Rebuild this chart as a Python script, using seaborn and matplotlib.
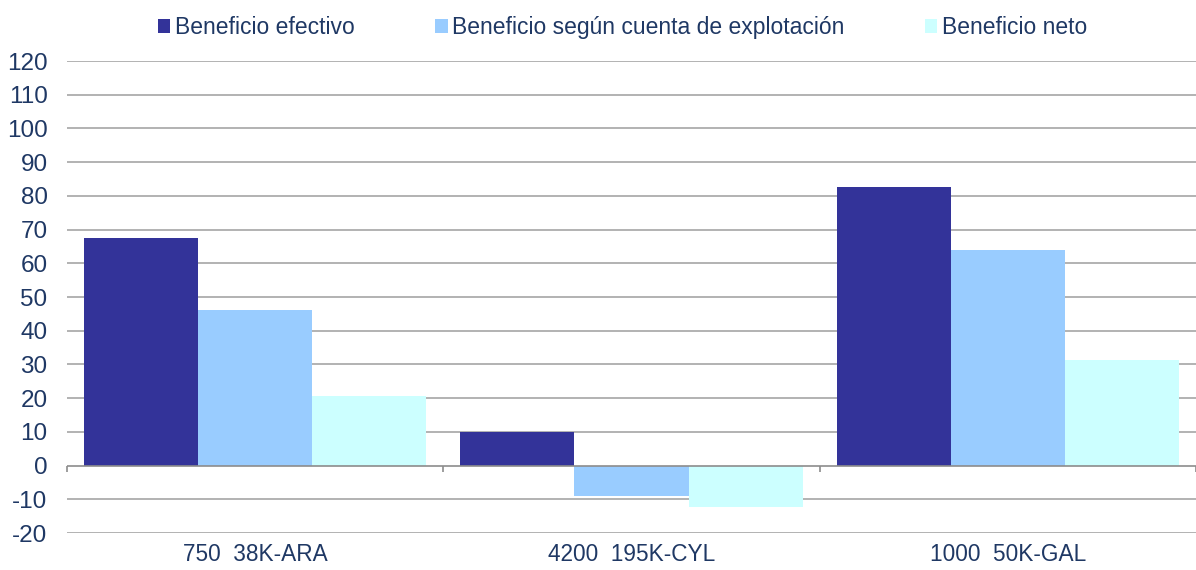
import matplotlib
matplotlib.use("Agg")
import matplotlib.pyplot as plt
import numpy as np
import pandas as pd
import seaborn as sns

# ─── Data ────────────────────────────────────────────────────────────────────
categories = ["750  38K-ARA", "4200  195K-CYL", "1000  50K-GAL"]
series     = ["Beneficio efectivo",
              "Beneficio según cuenta de explotación",
              "Beneficio neto"]
efectivo   = [67.5, 10.0, 82.6]
explot     = [46.0, -8.9, 64.0]
neto       = [20.5, -12.2, 31.3]
yticks     = list(range(-20, 121, 10))

colors   = ["#333399", "#99CCFF", "#CCFFFF"]
text_col = "#1F3864"
grid_col = "#A6A6A6"

df = pd.DataFrame({
    "categoria": categories * 3,
    "serie":     [s for s in series for _ in categories],
    "valor":     efectivo + explot + neto,
})

sns.set_theme(style="white")
plt.rcParams["font.family"] = ["Liberation Sans", "DejaVu Sans"]

fig = plt.figure(figsize=(11.96, 5.70), dpi=100)
ax = fig.add_axes([67 / 1196, 1 - 533 / 570, 1 - 67 / 1196, (533 - 61) / 570])

sns.barplot(
    data=df, x="categoria", y="valor", hue="serie",
    order=categories, hue_order=series, palette=colors,
    width=0.91, gap=0, saturation=1, ax=ax, legend=True,
    linewidth=0,
)

ax.set_ylim(-20, 120)
ax.set_xlim(-0.5, len(categories) - 0.5)
ax.set_yticks(yticks)
ax.set_yticklabels([str(v) for v in yticks])
ax.set_xlabel("")
ax.set_ylabel("")

# gridlines and zero axis
for v in yticks:
    if v != 0:
        ax.axhline(v, color=grid_col, lw=1.2, zorder=0)
ax.axhline(0, color="#8C8C8C", lw=1.2, zorder=3)
bounds = np.arange(len(categories) + 1) - 0.5
ax.vlines(bounds, -1.8, 0, color="#8C8C8C", lw=1.2, zorder=3, clip_on=False)

for s in ax.spines.values():
    s.set_visible(False)

ax.tick_params(axis="y", length=0, pad=14, labelsize=17.5, labelcolor=text_col)
ax.tick_params(axis="x", length=0, pad=7, labelsize=16.3, labelcolor=text_col)

handles, labels = ax.get_legend_handles_labels()
ax.legend_.remove()
fig.legend(
    handles, labels, ncol=3, loc="center", bbox_to_anchor=(0.5205, 0.951),
    frameon=False, fontsize=16.5, handlelength=0.55, handleheight=0.55,
    handletextpad=0.2, columnspacing=3.5, labelcolor=text_col,
)

fig.savefig("out.png", dpi=100)
plt.close(fig)
